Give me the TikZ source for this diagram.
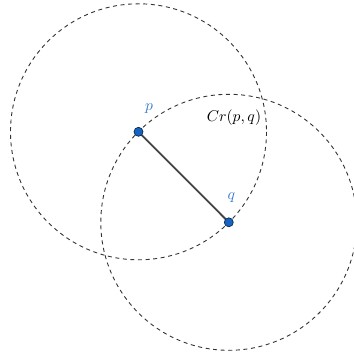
\documentclass[tikz,border=0pt]{standalone}
\usetikzlibrary{calc}
\definecolor{ptfill}{HTML}{1565C0}
\definecolor{ptedge}{HTML}{0B2A55}
\definecolor{lblblue}{HTML}{3B7DD0}
\definecolor{segcol}{HTML}{444444}
\definecolor{circcol}{HTML}{333333}
\begin{document}
\begin{tikzpicture}[x=1pt,y=-1pt,
  dashcirc/.style={draw=circcol, line width=0.9pt, dash pattern=on 4pt off 3.6pt},
  segment/.style={draw=segcol, line width=1.8pt},
  ptdot/.style={circle, fill=ptfill, draw=ptedge, line width=0.7pt, minimum size=9pt, inner sep=0pt},
  ptlabel/.style={text=lblblue, scale=1.56, inner sep=0pt},
  setlabel/.style={text=black, scale=1.56, inner sep=0pt}]
\useasboundingbox (0,0) rectangle (353,355);
\coordinate (p) at (138.5,131.8);
\coordinate (q) at (228.8,222.3);
\draw[dashcirc] (p) circle [radius=128];
\draw[dashcirc] (q) circle [radius=128];
\draw[segment] (p) -- (q);
\node[ptdot] (pd) at (p) {};
\node[ptdot] (qd) at (q) {};
\node[ptlabel] (pl) at (149,109) {$p$};
\node[ptlabel] (ql) at (231.5,198) {$q$};
\node[setlabel] (cr) at (234,117.5) {$Cr(p,q)$};
\end{tikzpicture}
\end{document}
